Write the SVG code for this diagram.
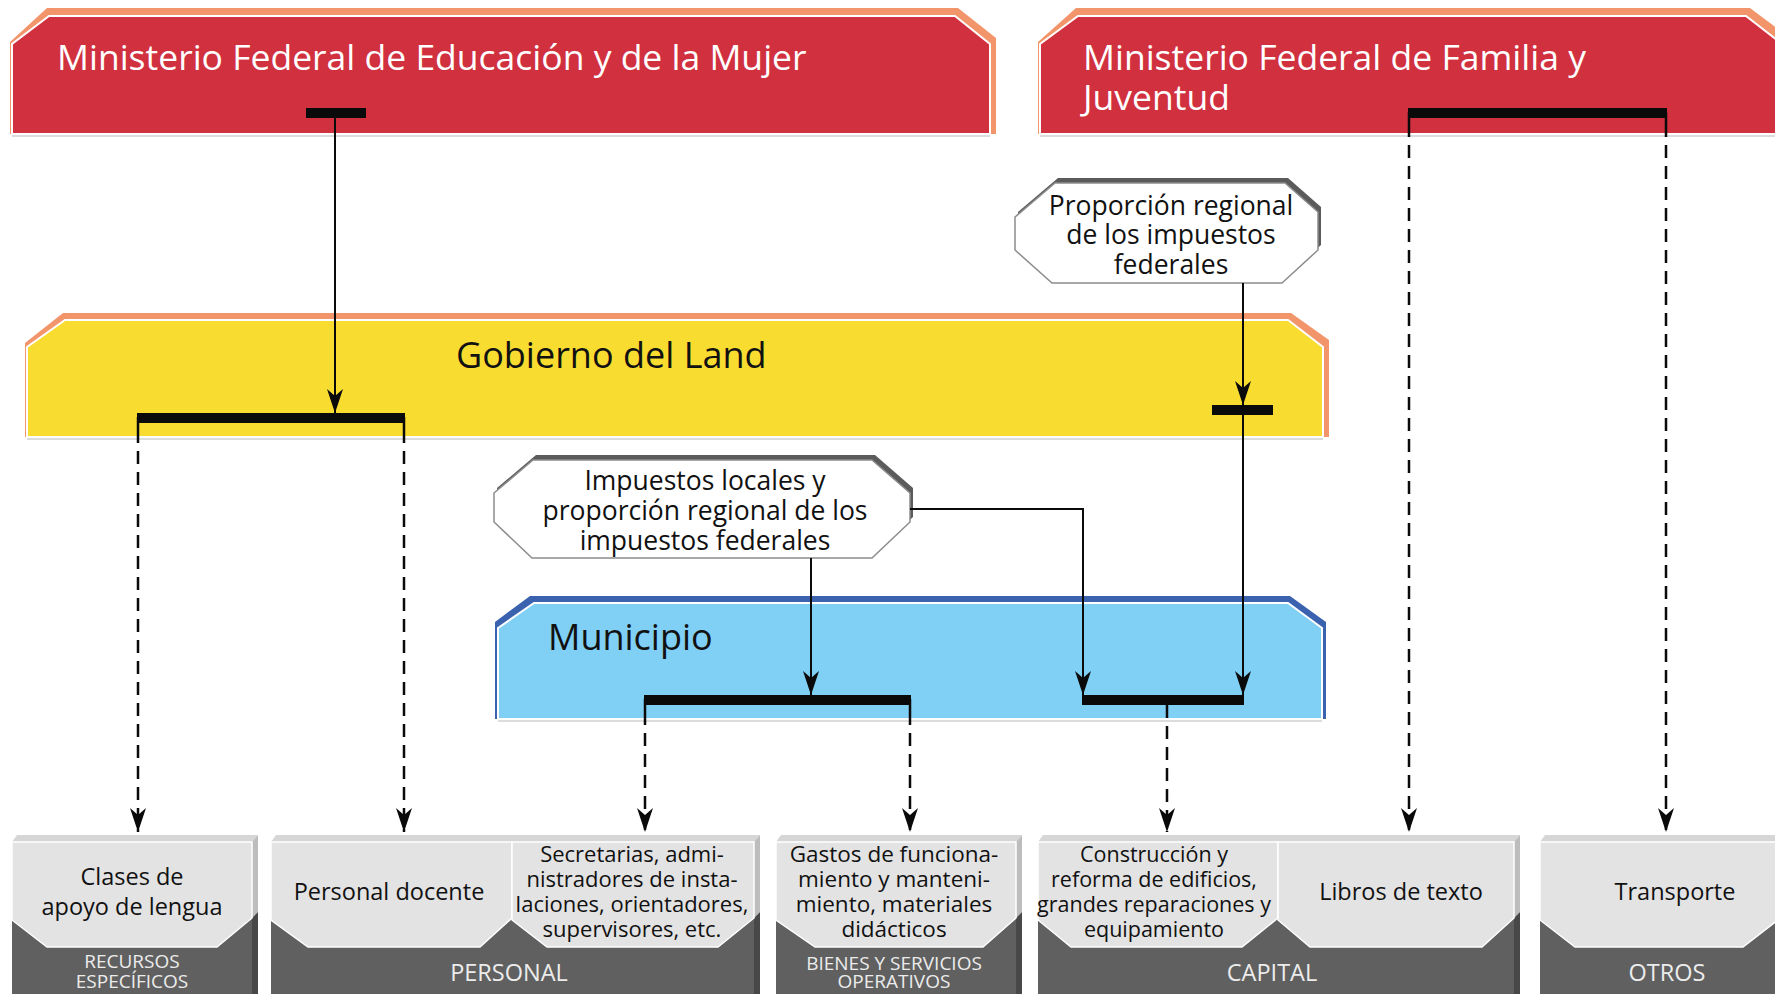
<svg xmlns="http://www.w3.org/2000/svg" width="1775" height="994" viewBox="0 0 1775 994">
<defs>
<style>
.t{font-family:"Open Sans","Noto Sans","Liberation Sans",sans-serif}
.title{font-size:35.5px;fill:#ffffff}
.band{font-size:36px;fill:#111111}
.oct{font-size:26.5px;fill:#111111;text-anchor:middle}
.lbl{font-size:23.5px;fill:#111111;text-anchor:middle}
.lbl2{font-size:22px;fill:#111111;text-anchor:middle}
.cat{font-size:23.5px;fill:#ececec;text-anchor:middle}
.cat2{font-size:19px;fill:#ececec;text-anchor:middle}
.orange{fill:#f3956b}
.red{fill:#d1303f;stroke:#ffffff;stroke-width:2}
.yellow{fill:#f9dc30;stroke:#ffffff;stroke-width:2}
.dblue{fill:#3a62af}
.blue{fill:#80cff5;stroke:#ffffff;stroke-width:2}
.shadowline{stroke:#dcdcdc;stroke-width:2}
.octsh{fill:#5b5b5b}
.octw{fill:#ffffff;stroke:#8c8c8c;stroke-width:1.5}
.front{fill:#606060}
.panel{fill:#e3e3e3;stroke:#ffffff;stroke-width:1.5}
.topf{fill:#d6d6d6}
.sideu{fill:#bdbdbd}
.sided{fill:#484848}
.solid{stroke:#0a0a0a;stroke-width:2;fill:none}
.dash{stroke:#0a0a0a;stroke-width:2.5;fill:none;stroke-dasharray:13 8}
.bar{fill:#0a0a0a}
.tick{stroke:#0a0a0a;stroke-width:2.5}
</style>
<marker id="arr" markerUnits="userSpaceOnUse" markerWidth="24" markerHeight="16" viewBox="0 0 24 16" refX="24" refY="8" orient="auto">
<path d="M24,8 L0,0 L7,8 L0,16 Z" fill="#0a0a0a"/>
</marker>
</defs>
<rect x="0" y="0" width="1775" height="994" fill="#ffffff"/>

<g id="ministerio-educacion">
<polygon class="orange" points="10,134 10,42 47,8 958,8 996,38 996,134"/>
<polygon class="red" points="12,134 12,44 49,16 955,16 990,44 990,134"/>
<line class="shadowline" x1="12" y1="136" x2="990" y2="136"/>
<text class="t title" x="57" y="70">Ministerio Federal de Educación y de la Mujer</text>
</g>

<g id="ministerio-familia">
<polygon class="orange" points="1038,134 1038,42 1076,8 1750,8 1790,38 1790,134"/>
<polygon class="red" points="1040,134 1040,44 1078,16 1746,16 1782,44 1782,134"/>
<line class="shadowline" x1="1040" y1="136" x2="1775" y2="136"/>
<text class="t title" x="1083" y="70">Ministerio Federal de Familia y</text>
<text class="t title" x="1083" y="110">Juventud</text>
</g>

<g id="gobierno-land">
<polygon class="orange" points="25,437 25,343 63,313 1291,313 1329,340 1329,437"/>
<polygon class="yellow" points="27,437 27,347 65,320 1288,320 1323,347 1323,437"/>
<line class="shadowline" x1="27" y1="439" x2="1323" y2="439"/>
<text class="t band" x="456" y="368">Gobierno del Land</text>
</g>

<g id="municipio">
<polygon class="dblue" points="495,719 495,622 530,596 1290,596 1326,622 1326,719"/>
<polygon class="blue" points="498,719 498,628 534,603 1288,603 1322,628 1322,719"/>
<line class="shadowline" x1="498" y1="721" x2="1322" y2="721"/>
<text class="t band" x="548" y="650">Municipio</text>
</g>

<g id="proporcion-regional">
<polygon class="octsh" points="1018,212 1058,178 1288,178 1321,207 1321,245 1285,278 1055,278 1018,245"/>
<polygon class="octw" points="1015,217 1055,183 1285,183 1318,212 1318,250 1282,283 1052,283 1015,250"/>
<text class="t oct" x="1171" y="215">Proporción regional</text>
<text class="t oct" x="1171" y="244">de los impuestos</text>
<text class="t oct" x="1171" y="274">federales</text>
</g>

<g id="impuestos-locales">
<polygon class="octsh" points="497,488 536,455 875,455 913,488 913,517 875,553 535,553 497,517"/>
<polygon class="octw" points="494,493 533,460 872,460 910,493 910,522 872,558 532,558 494,522"/>
<text class="t oct" x="705" y="490">Impuestos locales y</text>
<text class="t oct" x="705" y="520">proporción regional de los</text>
<text class="t oct" x="705" y="550">impuestos federales</text>
</g>

<g id="clases-apoyo">
<rect class="front" x="12" y="842" width="240" height="152"/>
<polygon class="topf" points="12,842 17,835 258,835 252,842"/>
<polygon class="sideu" points="252,842 258,835 258,912 252,918"/>
<polygon class="sided" points="252,918 258,912 258,994 252,994"/>
<polygon class="panel" points="12,842 252,842 252,918 217,947 47,947 12,920"/>
<text class="t lbl" x="132" y="885">Clases de</text>
<text class="t lbl" x="132" y="915">apoyo de lengua</text>
<text class="t cat2" x="132" y="968">RECURSOS</text>
<text class="t cat2" x="132" y="988">ESPECÍFICOS</text>
</g>

<g id="personal">
<rect class="front" x="271" y="842" width="483" height="152"/>
<polygon class="topf" points="271,842 276,835 760,835 754,842"/>
<polygon class="sideu" points="754,842 760,835 760,912 754,918"/>
<polygon class="sided" points="754,918 760,912 760,994 754,994"/>
<polygon class="panel" points="271,842 512,842 512,918 480,947 308,947 271,920"/>
<polygon class="panel" points="512,842 754,842 754,918 718,947 547,947 512,920"/>
<text class="t lbl" x="389" y="900">Personal docente</text>
<text class="t lbl2" x="632" y="862">Secretarias, admi-</text>
<text class="t lbl2" x="632" y="887">nistradores de insta-</text>
<text class="t lbl2" x="632" y="912">laciones, orientadores,</text>
<text class="t lbl2" x="632" y="937">supervisores, etc.</text>
<text class="t cat" x="509" y="981">PERSONAL</text>
</g>

<g id="bienes-servicios">
<rect class="front" x="776" y="842" width="240" height="152"/>
<polygon class="topf" points="776,842 781,835 1022,835 1016,842"/>
<polygon class="sideu" points="1016,842 1022,835 1022,912 1016,918"/>
<polygon class="sided" points="1016,918 1022,912 1022,994 1016,994"/>
<polygon class="panel" points="776,842 1016,842 1016,918 983,947 815,947 776,920"/>
<text class="t lbl2" x="894" y="862" style="font-size:22.5px">Gastos de funciona-</text>
<text class="t lbl2" x="894" y="887" style="font-size:22.5px">miento y manteni-</text>
<text class="t lbl2" x="894" y="912" style="font-size:22.5px">miento, materiales</text>
<text class="t lbl2" x="894" y="937" style="font-size:22.5px">didácticos</text>
<text class="t cat2" x="894" y="970">BIENES Y SERVICIOS</text>
<text class="t cat2" x="894" y="988">OPERATIVOS</text>
</g>

<g id="capital">
<rect class="front" x="1038" y="842" width="476" height="152"/>
<polygon class="topf" points="1038,842 1043,835 1520,835 1514,842"/>
<polygon class="sideu" points="1514,842 1520,835 1520,912 1514,918"/>
<polygon class="sided" points="1514,918 1520,912 1520,994 1514,994"/>
<polygon class="panel" points="1038,842 1278,842 1278,918 1242,947 1071,947 1038,920"/>
<polygon class="panel" points="1278,842 1514,842 1514,918 1482,947 1310,947 1278,920"/>
<text class="t lbl2" x="1154" y="862" style="font-size:21.5px">Construcción y</text>
<text class="t lbl2" x="1154" y="887" style="font-size:21.5px">reforma de edificios,</text>
<text class="t lbl2" x="1154" y="912" style="font-size:21.5px">grandes reparaciones y</text>
<text class="t lbl2" x="1154" y="937" style="font-size:21.5px">equipamiento</text>
<text class="t lbl" x="1401" y="900">Libros de texto</text>
<text class="t cat" x="1272" y="981">CAPITAL</text>
</g>

<g id="otros">
<rect class="front" x="1540" y="842" width="240" height="152"/>
<polygon class="topf" points="1540,842 1545,835 1780,835 1780,842"/>
<polygon class="panel" points="1540,842 1780,842 1780,918 1778,920 1743,947 1575,947 1540,920"/>
<text class="t lbl" x="1675" y="900">Transporte</text>
<text class="t cat" x="1667" y="981">OTROS</text>
</g>

<g id="connectors">
<rect class="bar" x="306" y="108" width="60" height="10"/>
<line class="solid" x1="335" y1="118" x2="335" y2="413" marker-end="url(#arr)"/>

<rect class="bar" x="1408" y="108" width="259" height="10"/>
<line class="tick" x1="1409" y1="112" x2="1409" y2="124"/>
<line class="tick" x1="1666" y1="112" x2="1666" y2="124"/>
<line class="dash" x1="1409" y1="124" x2="1409" y2="832" marker-end="url(#arr)"/>
<line class="dash" x1="1666" y1="124" x2="1666" y2="832" marker-end="url(#arr)"/>

<rect class="bar" x="137" y="413" width="268" height="10"/>
<line class="tick" x1="138" y1="417" x2="138" y2="430"/>
<line class="tick" x1="404" y1="417" x2="404" y2="430"/>
<line class="dash" x1="138" y1="430" x2="138" y2="832" marker-end="url(#arr)"/>
<line class="dash" x1="404" y1="430" x2="404" y2="832" marker-end="url(#arr)"/>

<rect class="bar" x="1212" y="405" width="61" height="10"/>
<line class="solid" x1="1243" y1="283" x2="1243" y2="405" marker-end="url(#arr)"/>
<line class="solid" x1="1243" y1="415" x2="1243" y2="695" marker-end="url(#arr)"/>

<line class="solid" x1="811" y1="558" x2="811" y2="695" marker-end="url(#arr)"/>
<polyline class="solid" points="910,509 1083,509 1083,695" marker-end="url(#arr)"/>

<rect class="bar" x="644" y="695" width="267" height="10"/>
<line class="tick" x1="645" y1="699" x2="645" y2="712"/>
<line class="tick" x1="910" y1="699" x2="910" y2="712"/>
<line class="dash" x1="645" y1="712" x2="645" y2="832" marker-end="url(#arr)"/>
<line class="dash" x1="910" y1="712" x2="910" y2="832" marker-end="url(#arr)"/>

<rect class="bar" x="1082" y="695" width="162" height="10"/>
<line class="dash" x1="1167" y1="705" x2="1167" y2="832" marker-end="url(#arr)"/>
</g>
</svg>
